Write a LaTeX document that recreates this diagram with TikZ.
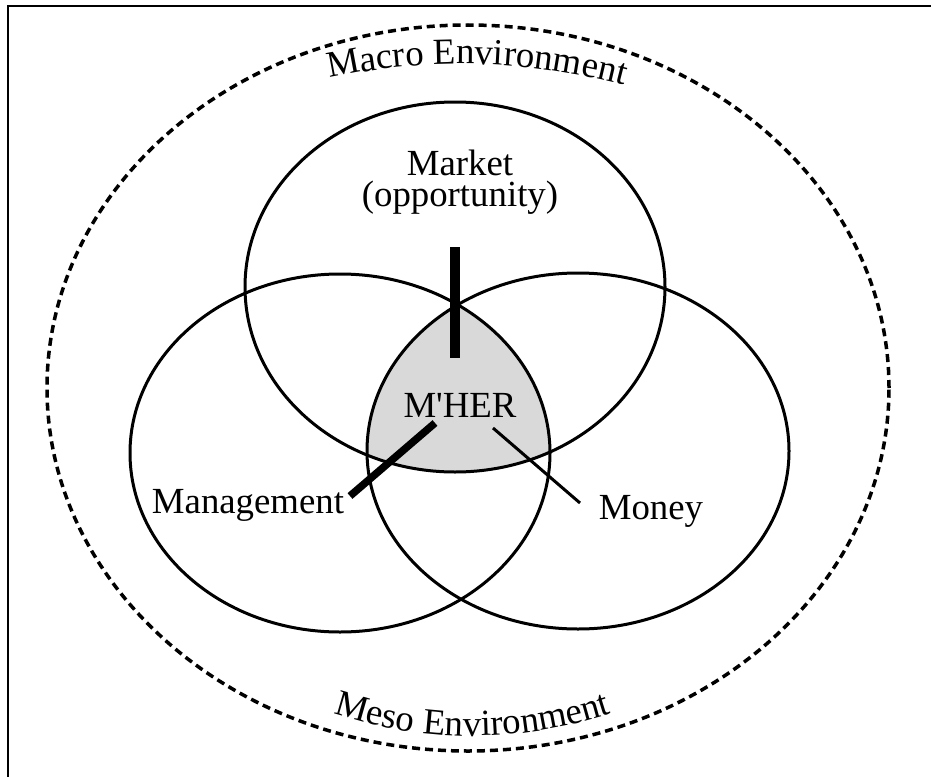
\documentclass[tikz,border=0pt]{standalone}
\usepackage{fontspec}
\setmainfont{Liberation Serif}
\usetikzlibrary{shapes.geometric,decorations.text}

\newcommand\mherfont{\fontsize{36.8}{31}\selectfont}

\begin{document}
\begin{tikzpicture}[x=1pt,y=-1pt,
  venn/.style={draw, ellipse, line width=3pt, inner sep=0pt},
  mtext/.style={font=\mherfont, inner sep=0pt}]

\useasboundingbox (0,0) rectangle (931,776);

% frame
\draw[line width=2pt] (8,800) -- (8,6) -- (950,6);

% plot the environment
\node[venn, line width=3.5pt, dash pattern=on 8pt off 5pt, minimum width=842pt, minimum height=726pt] (environment) at (468,388) {};

% shade the common part
\begin{scope}
\clip (455,287) ellipse [x radius=210, y radius=185];
\clip (340,453) ellipse [x radius=210, y radius=179];
\clip (578,451) ellipse [x radius=211, y radius=178];
\fill[black!15] (200,250) rectangle (750,520);
\end{scope}

% plot the three circles
\node[venn, minimum width=420pt, minimum height=370pt] (market) at (455,287) {};
\node[venn, minimum width=420pt, minimum height=358pt] (management) at (340,453) {};
\node[venn, minimum width=422pt, minimum height=356pt] (money) at (578,451) {};

% labels
\node[mtext, align=center, anchor=north] (market_lbl) at (460,150) {Market\\(opportunity)};
\node[mtext, anchor=base] (mher) at (460,417) {M\textquotesingle HER};
\node[mtext, anchor=base] (management_lbl) at (248,513) {Management};
\node[mtext, anchor=base] (money_lbl) at (651,519) {Money};

% bars to the centre
\coordinate (market_end) at (455,247);
\coordinate (market_in) at (455,358);
\draw[line width=10pt] (market_end) -- (market_in);

\coordinate (management_end) at (350,496);
\coordinate (management_in) at (435,423);
\draw[line width=7.5pt] (management_end) -- (management_in);

\coordinate (money_end) at (580,503);
\coordinate (money_in) at (493,428);
\draw[line width=3pt] (money_end) -- (money_in);

% curved texts
\path[decorate, decoration={text along path, text align=center,
  text={|\mherfont|Macro Environment}}]
  (310,82.6) .. controls (421,55.4) and (532,58.1) .. (643,90.6);
\path[decorate, decoration={text along path, text align=center,
  text={|\mherfont|Meso Environment}}]
  (312,706) .. controls (418.7,746) and (525.7,746) .. (633,706);

\end{tikzpicture}
\end{document}
